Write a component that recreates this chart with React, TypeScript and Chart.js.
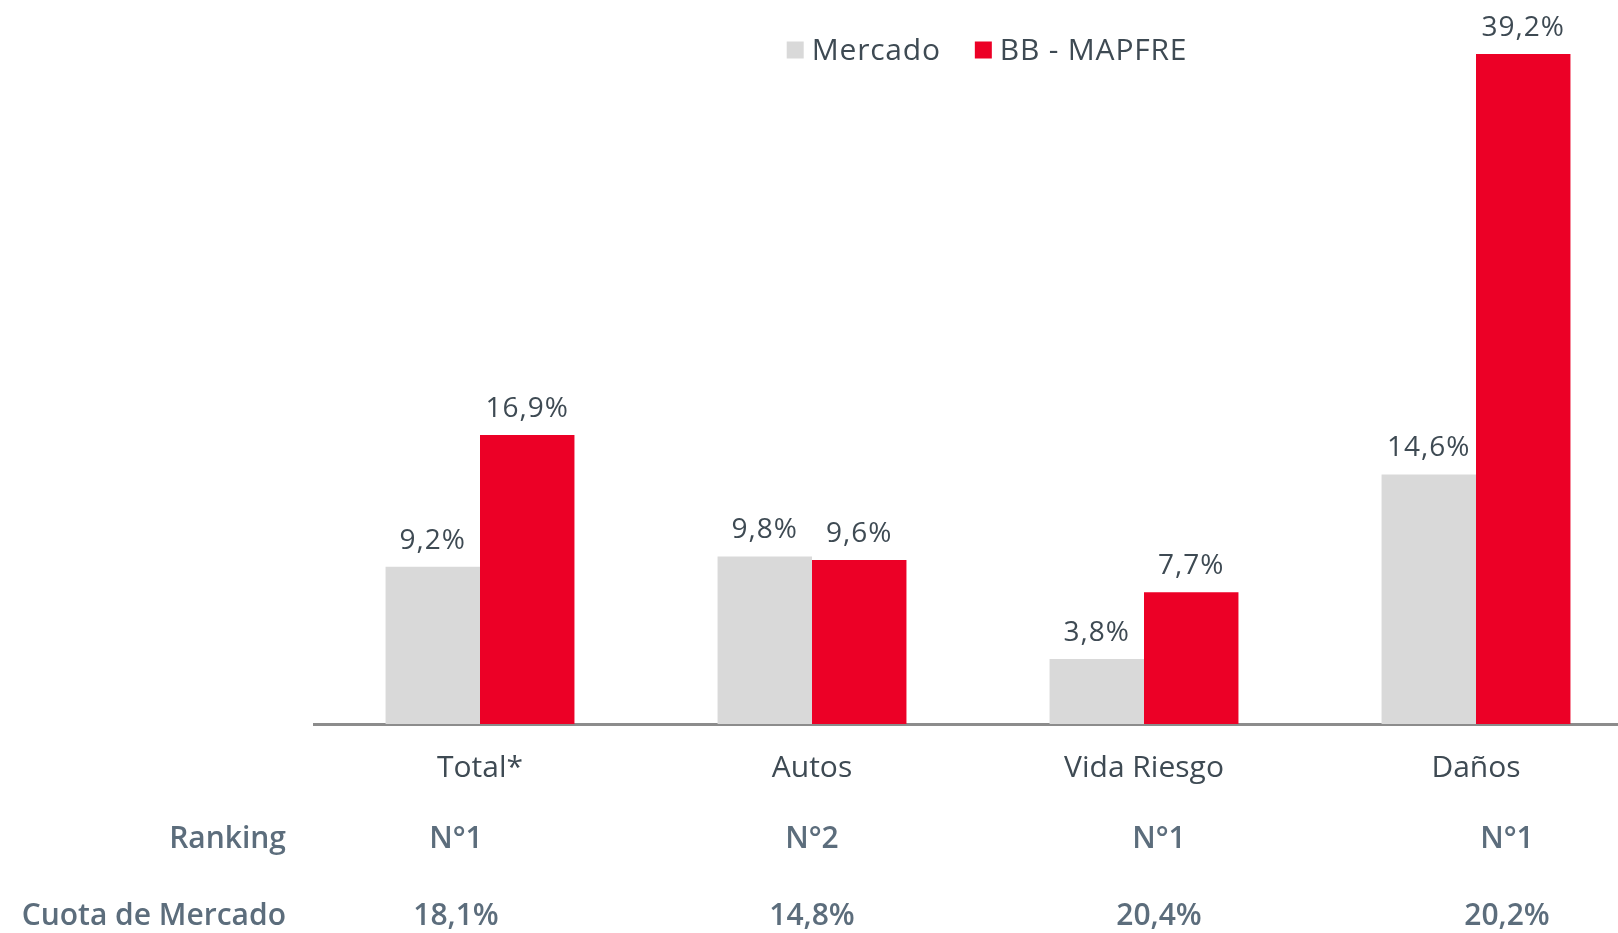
import React, { useEffect, useRef } from "react";
import { Chart, registerables } from "chart.js";

Chart.register(...registerables);

const categories = ["Total*", "Autos", "Vida Riesgo", "Daños"];
const seriesNames = ["Mercado", "BB - MAPFRE"];
const mercado = [9.2, 9.8, 3.8, 14.6];
const bbMapfre = [16.9, 9.6, 7.7, 39.2];
const rankingTitle = "Ranking";
const ranking = ["N°1", "N°2", "N°1", "N°1"];
const cuotaTitle = "Cuota de Mercado";
const cuota = ["18,1%", "14,8%", "20,4%", "20,2%"];

// layout: the table columns below the axis are spaced slightly differently from the bars
const tableColumnShift = [-24, 0, 15, 31];

const FONT = "'Open Sans', sans-serif";
const DARK = "#3e4a53";
const ROWC = "#5c6d7c";
const GRAY = "#d9d9d9";
const RED = "#ec0026";

const fmt = (v: number) => v.toFixed(1).replace(".", ",") + "%";

const overlay = {
  id: "overlay",
  afterDatasetsDraw(chart: any) {
    const ctx = chart.ctx;
    const area = chart.chartArea;
    ctx.save();
    // value labels
    ctx.font = `500 28px ${FONT}`;
    (ctx as any).letterSpacing = "1px";
    ctx.fillStyle = DARK;
    ctx.textAlign = "center";
    ctx.textBaseline = "alphabetic";
    chart.data.datasets.forEach((ds: any, di: number) => {
      const meta = chart.getDatasetMeta(di);
      meta.data.forEach((bar: any, i: number) => {
        ctx.fillText(fmt(ds.data[i]), bar.x, bar.y - 18);
      });
    });

    // legend
    ctx.font = `500 30px ${FONT}`;
    (ctx as any).letterSpacing = "0.8px";
    const box = 17, gap = 8, itemGap = 34;
    const widths = seriesNames.map((n) => ctx.measureText(n).width);
    const total = widths.reduce((a, w) => a + box + gap + w, 0) + itemGap * (seriesNames.length - 1);
    let x = (area.left + area.right) / 2 - total / 2 + 9;
    const ly = 50;
    ctx.textAlign = "left";
    ctx.textBaseline = "middle";
    seriesNames.forEach((n, i) => {
      ctx.fillStyle = chart.data.datasets[i].backgroundColor;
      ctx.fillRect(x, ly - box / 2, box, box);
      ctx.fillStyle = DARK;
      ctx.fillText(n, x + box + gap, ly + 1);
      x += box + gap + widths[i] + itemGap;
    });
    (ctx as any).letterSpacing = "0px";

    // bottom rows
    const xs = chart.scales.x;
    const rows = [
      { title: rankingTitle, vals: ranking, dy: 115 },
      { title: cuotaTitle, vals: cuota, dy: 192 },
    ];
    ctx.font = `600 30px ${FONT}`;
    ctx.fillStyle = ROWC;
    rows.forEach((r) => {
      const y = area.bottom + r.dy;
      ctx.textAlign = "right";
      ctx.fillText(r.title, area.left - 28, y);
      ctx.textAlign = "center";
      r.vals.forEach((v, i) => ctx.fillText(v, xs.getPixelForValue(i) + tableColumnShift[i], y));
    });
    ctx.restore();
  },
};

export default function App() {
  const ref = useRef<HTMLCanvasElement>(null);
  useEffect(() => {
    if (!ref.current) return;
    const chart = new Chart(ref.current, {
      type: "bar",
      data: {
        labels: categories,
        datasets: [
          { label: seriesNames[0], data: mercado, backgroundColor: GRAY, borderWidth: 0, barPercentage: 1, categoryPercentage: 0.569 },
          { label: seriesNames[1], data: bbMapfre, backgroundColor: RED, borderWidth: 0, barPercentage: 1, categoryPercentage: 0.569 },
        ],
      },
      options: {
        responsive: false,
        animation: false,
        layout: { padding: { left: 314, right: 8, top: 18, bottom: 121 } },
        plugins: { legend: { display: false }, tooltip: { enabled: false } },
        scales: {
          x: {
            grid: { display: false, drawTicks: false },
            border: { display: true, color: "#8c8c8c", width: 3 },
            ticks: { font: { family: FONT, size: 30 }, color: DARK, padding: 26, maxRotation: 0 },
          },
          y: { display: false, min: 0, max: 41.3 },
        },
      },
      plugins: [overlay],
    });
    return () => chart.destroy();
  }, []);
  return (
    <div style={{ position: "fixed", left: 0, top: 0, width: 1618, height: 933, overflow: "hidden", background: "#fff" }}>
      <canvas ref={ref} width={1650} height={933} style={{ display: "block" }} />
    </div>
  );
}
